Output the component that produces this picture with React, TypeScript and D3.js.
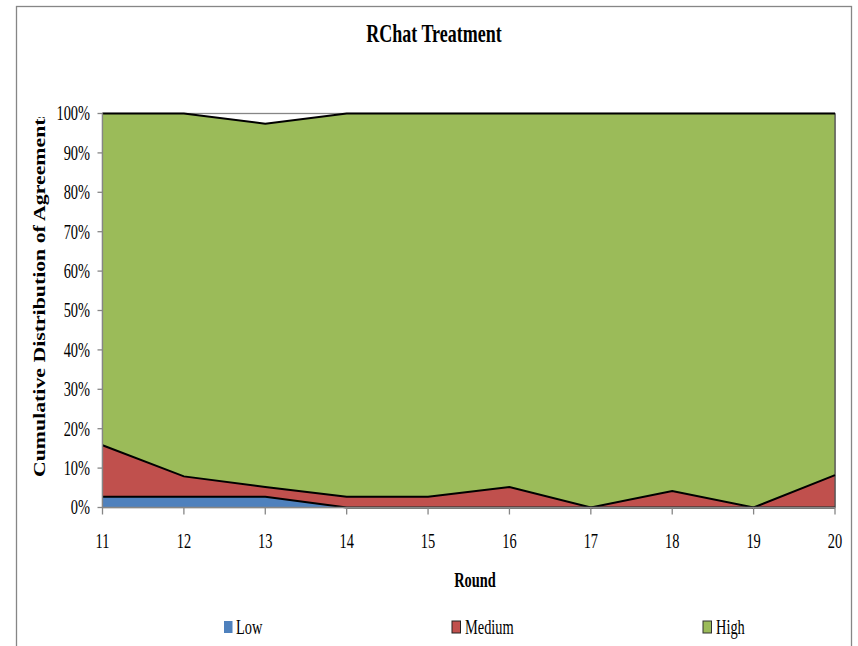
import React from "react";
import * as d3 from "d3";

const rounds = [11, 12, 13, 14, 15, 16, 17, 18, 19, 20];
const low = [2.7, 2.7, 2.7, 0, 0, 0, 0, 0, 0, 0];
const medium = [13.1, 5.2, 2.5, 2.7, 2.7, 5.2, 0, 4.2, 0, 8.2];
const high = [84.2, 92.1, 92.2, 97.3, 97.3, 94.8, 100, 95.8, 100, 91.8];
const yTicks = [0, 10, 20, 30, 40, 50, 60, 70, 80, 90, 100];
const seriesNames = ["Low", "Medium", "High"];
const colors = ["#4F81BD", "#C0504D", "#9BBB59"];

const FONT = "'Liberation Serif', 'Times New Roman', serif";
const SX = 0.72;

function T(props: any) {
  const { x, y, anchor = "start", size = 20, weight = "normal", children, dy } = props;
  return (
    <text
      transform={`translate(${x},${y}) scale(${SX},1)`}
      textAnchor={anchor}
      fontSize={size}
      fontWeight={weight}
      fontFamily={FONT}
      fill="#000"
      dy={dy}
    >
      {children}
    </text>
  );
}

export default function App() {
  const W = 858, H = 646;
  const x = d3.scaleLinear().domain([11, 20]).range([102.5, 835]);
  const y = d3.scaleLinear().domain([0, 100]).range([507.5, 113.5]);

  const table = rounds.map((r, i) => ({ round: r, Low: low[i], Medium: medium[i], High: high[i] }));
  const stacked = d3.stack<any>().keys(seriesNames)(table);

  const area = d3
    .area<any>()
    .x((d) => x(d.data.round))
    .y0((d) => y(d[0]))
    .y1((d) => y(d[1]));
  const topLine = d3
    .line<any>()
    .x((d) => x(d.data.round))
    .y((d) => y(d[1]));

  const legendItems = [
    { name: "Low", mx: 224, tx: 236, stroke: "none" },
    { name: "Medium", mx: 452, tx: 465, stroke: "#222" },
    { name: "High", mx: 703, tx: 716, stroke: "#333" },
  ];

  return (
    <svg width={W} height={H} style={{ position: "absolute", left: 0, top: 0, background: "#fff" }}>
      <defs>
        <clipPath id="ytclip">
          <rect x={0} y={117} width={100} height={500} />
        </clipPath>
      </defs>
      <rect x={16.5} y={6.5} width={835} height={700} fill="#fff" stroke="#868686" strokeWidth={1.3} />

      <T x={434} y={41.5} anchor="middle" size={25} weight="bold">RChat Treatment</T>

      {/* plot area border */}
      <rect x={x(11)} y={y(100)} width={x(20) - x(11)} height={y(0) - y(100)} fill="none" stroke="#868686" strokeWidth={1.3} />

      {stacked.map((s, i) => (
        <path key={s.key} d={area(s) || ""} fill={colors[i]} stroke="none" />
      ))}
      {/* right edge */}
      <line x1={x(20)} x2={x(20)} y1={y(0)} y2={y(100)} stroke="#555" strokeWidth={1.3} />
      {stacked.map((s) => (
        <path key={s.key + "l"} d={topLine(s) || ""} fill="none" stroke="#000" strokeWidth={2} />
      ))}

      {/* axes */}
      <line x1={x(11)} x2={x(11)} y1={y(0)} y2={y(100)} stroke="#868686" strokeWidth={1.3} />
      <line x1={x(11)} x2={x(20)} y1={y(0)} y2={y(0)} stroke="#868686" strokeWidth={1.3} />
      {yTicks.map((t) => (
        <g key={"y" + t}>
          <line x1={x(11) - 5} x2={x(11)} y1={y(t)} y2={y(t)} stroke="#868686" strokeWidth={1.3} />
          <T x={90} y={y(t)} anchor="end" dy="0.34em">{t + "%"}</T>
        </g>
      ))}
      {rounds.map((r) => (
        <g key={"x" + r}>
          <line x1={x(r)} x2={x(r)} y1={y(0)} y2={y(0) + 7} stroke="#868686" strokeWidth={1.3} />
          <T x={x(r)} y={548} anchor="middle">{String(r)}</T>
        </g>
      ))}

      <T x={475} y={587} anchor="middle" weight="bold">Round</T>

      <g clipPath="url(#ytclip)">
        <text
          transform={`translate(45,477) scale(0.8,1) rotate(-90)`}
          fontSize={21.8}
          fontWeight="bold"
          fontFamily={FONT}
          fill="#000"
        >
          Cumulative Distribution of Agreements
        </text>
      </g>

      {legendItems.map((it, i) => (
        <g key={it.name}>
          <rect x={it.mx} y={621} width={8.5} height={12} fill={colors[i]} stroke={it.stroke} strokeWidth={1} />
          <T x={it.tx} y={633.5}>{it.name}</T>
        </g>
      ))}
    </svg>
  );
}
